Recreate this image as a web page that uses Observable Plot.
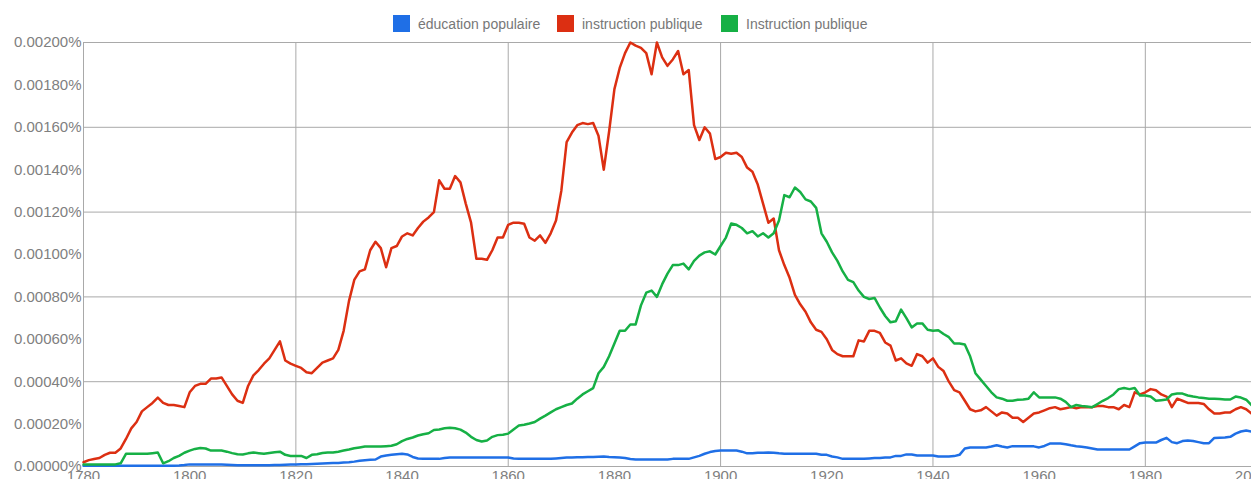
<!DOCTYPE html>
<html>
<head>
<meta charset="utf-8">
<script src="https://cdn.jsdelivr.net/npm/d3@7"></script>
<script src="https://cdn.jsdelivr.net/npm/@observablehq/plot@0.6"></script>
<style>
  html, body { margin: 0; padding: 0; background: #fff; overflow: hidden; }
  body { width: 1251px; height: 479px; font-family: "Liberation Sans", Arial, sans-serif; }
  #legend { height: 34px; position: relative; }
  .item { position: absolute; top: 15px; height: 17px; display: flex; align-items: center; font-size: 14px; color: #777; white-space: nowrap; }
  .sw { width: 17px; height: 17px; margin-right: 8px; display: inline-block; }
</style>
</head>
<body>
<div id="legend"></div>
<div id="chart"></div>
<script>
// Years covered by the chart
const startYear = 1780;
const endYear = 2000;

// Series names and colours
const seriesNames = ["éducation populaire", "instruction publique", "Instruction publique"];
const seriesColors = ["#1f6fe6", "#dc2f12", "#16b045"];

// Values in units of 0.00001 % (1780 ... 2000, one per year)
const educationPopulaire = [
0.3,0.3,0.3,0.3,0.3,0.3,0.3,0.3,0.3,0.3, 0.3,0.3,0.3,0.3,0.3,0.3,0.3,0.4,0.5,0.7,
1,1,1,1,1,1,0.9,0.8,0.7,0.6, 0.6,0.6,0.6,0.6,0.6,0.6,0.7,0.7,0.8,0.9,
1,1.1,1.1,1.2,1.3,1.4,1.5,1.6,1.7,1.9, 2,2.3,2.7,3,3.2,3.3,4.7,5.2,5.5,5.8,
6,5.7,4.5,3.8,3.6,3.6,3.6,3.6,4,4.2, 4.3,4.3,4.2,4.2,4.3,4.2,4.3,4.2,4.3,4.3,
4.2,3.8,3.7,3.7,3.6,3.6,3.6,3.7,3.6,3.8, 4,4.2,4.3,4.4,4.4,4.5,4.5,4.6,4.7,4.5,
4.4,4.2,4,3.5,3.3,3.3,3.3,3.3,3.3,3.3, 3.3,3.6,3.6,3.6,3.6,4.3,5,6,6.8,7.3,
7.5,7.5,7.5,7.5,7,6.2,6.2,6.5,6.5,6.6, 6.5,6.2,6,6,6,6,6,6,6,5.5,
5.5,4.7,4.3,3.6,3.6,3.6,3.6,3.6,3.8,4, 4,4.2,4.3,5,5,5.7,5.7,5.2,5.2,5.2,
5.2,4.7,4.7,4.7,4.9,5.5,8.5,9,9,9, 9,9.4,10,9.4,9,9.6,9.6,9.6,9.5,9.5,
9,9.7,10.8,10.8,10.8,10.5,10,9.6,9.3,9, 8.5,8,8,8,8,8,8,8,9.5,11,
11.3,11.3,11.3,12.5,13.5,11.5,11,12,12.3,12, 11.5,11,11,13.5,13.6,13.7,14,15.5,16.5,17,
16.5];

const instructionPubliqueLower = [
2,3,3.5,4,5.5,6.5,6.5,8.5,13,18, 21,26,28,30,32.5,30,29,29,28.5,28,
35,38,39,39,41.5,41.5,42,38,34,31, 30,38,43,45.5,48.5,51,55,59,50,48.5,
47.5,46.5,44.5,44,46.5,49,50,51,55,64, 78,88,92,93,102,106,103,94,103,104,
108.5,110,109,112.5,115.5,117.5,120,135,131,131, 137,134,124,115,98,98,97.5,102,108,108,
114,115,115,114.5,108,106.5,109,105.5,110,116, 130,153,157.5,161,162,161.5,162,156,140,158,
178,188,195,200,198.5,197.5,195,185,200,193, 189,192,196,185,187,161,154,160,157,145,
146,148,147.5,148,146,141,139,133,124,115, 117,102,95,89,81,76.5,73,68,64.5,63.5,
60,55,53,52,52,52,59.5,59,64,64, 63,58.5,57,50,51,48.6,47.5,53,52,49,
51,47,45,40,36,35,31,27,26,26.5, 28,26,24,25.5,25,23,23,21,23,25,
25.5,26.5,27.5,28,27,27.5,28,27.5,28,28, 28,28.5,28.5,28,28,27,29,28,35,34,
35,36.5,36,34,33,28,32,31,30,30, 30,29.5,27,25,25,25.5,25.5,27,28,27,
25];

const instructionPubliqueUpper = [
1,1,1,1,1,1,1,1.5,6,6, 6,6,6,6.3,6.6,1.5,2.5,4,5,6.5,
7.5,8.3,8.7,8.5,7.5,7.5,7.5,7,6.3,5.8, 5.7,6.2,6.6,6.3,6,6.4,6.7,7,5.5,5,
5,5,4,5.5,5.8,6.4,6.6,6.6,7,7.5, 8,8.6,9,9.4,9.4,9.4,9.4,9.6,9.8,10.5,
12,13,13.7,14.6,15.2,15.7,17.2,17.5,18,18.3, 18,17.4,16,14,12.5,11.8,12.3,14,14.8,15,
15.5,17.5,19.3,19.7,20.3,21,22.6,24,25.5,27, 28,29,29.7,32,34,35.5,37,44,47,52,
58,64,64,67,67,76,82,83,80,86, 91,95,95,95.7,93,97,99.5,101,101.5,100,
104,108,114.6,114,112.5,110,111,108.5,110,108, 110,116,128,127,131.6,129.5,126,125,122,110,
106,101,97,92,88,87,83,80,79,79.5, 75,71,68,68.5,74,70,65.6,67.5,67.5,64.5,
64,64.3,62.5,61,58,58,57.5,52,44,41, 38,35,32.6,32,31,31,31.5,31.6,32,35,
32.6,32.6,32.6,32.6,32,30.5,28,29,28.5,28.3, 28,29.5,31,32.3,34,36.5,37,36.5,37,33.5,
33.5,33,31,31.3,31.6,34,34.4,34.4,33.5,33, 32.6,32.3,32,32,31.8,31.6,31.6,33,32.5,31.5,
29];

// Tick values
const xTicks = [1780,1800,1820,1840,1860,1880,1900,1920,1940,1960,1980,2000];
const yTicks = [0,20,40,60,80,100,120,140,160,180,200];
const xGrid = [1820,1860,1900,1940,1980];
const yGrid = [0,40,80,120,160,200];

const seriesValues = [educationPopulaire, instructionPubliqueLower, instructionPubliqueUpper];
const data = [];
seriesValues.forEach((vals, s) => {
  vals.forEach((v, i) => data.push({series: seriesNames[s], year: startYear + i, value: v}));
});

// Legend
const legend = document.getElementById("legend");
const legendLeft = [393, 557, 721];
seriesNames.forEach((name, i) => {
  const el = document.createElement("div");
  el.className = "item";
  el.style.left = legendLeft[i] + "px";
  el.innerHTML = `<span class="sw" style="background:${seriesColors[i]}"></span><span>${name}</span>`;
  legend.appendChild(el);
});

const gridColor = "#a9a9a9";
const chart = Plot.plot({
  width: 1251,
  height: 445,
  marginLeft: 83,
  marginRight: 0,
  marginTop: 8,
  marginBottom: 13,
  style: {fontFamily: "'Liberation Sans', Arial, sans-serif", overflow: "visible", background: "white"},
  x: {domain: [startYear, endYear], label: null},
  y: {domain: [0, 200], label: null},
  color: {domain: seriesNames, range: seriesColors},
  marks: [
    Plot.ruleY(yGrid, {stroke: gridColor, strokeWidth: 1}),
    Plot.ruleX(xGrid, {stroke: gridColor, strokeWidth: 1}),
    Plot.ruleX([startYear], {stroke: gridColor, strokeWidth: 1}),
    Plot.axisY({ticks: yTicks, tickSize: 0, tickPadding: 2, fontSize: 15, fill: "#808080",
      tickFormat: d => (d / 100000).toFixed(5) + "%"}),
    Plot.axisX({ticks: xTicks, tickSize: 0, tickPadding: 4, fontSize: 15, fill: "#808080",
      tickFormat: d => String(d)}),
    Plot.line(data, {x: "year", y: "value", z: "series", stroke: "series", strokeWidth: 2.5,
      strokeLinejoin: "round", curve: "linear"})
  ]
});
document.getElementById("chart").appendChild(chart);
</script>
</body>
</html>
